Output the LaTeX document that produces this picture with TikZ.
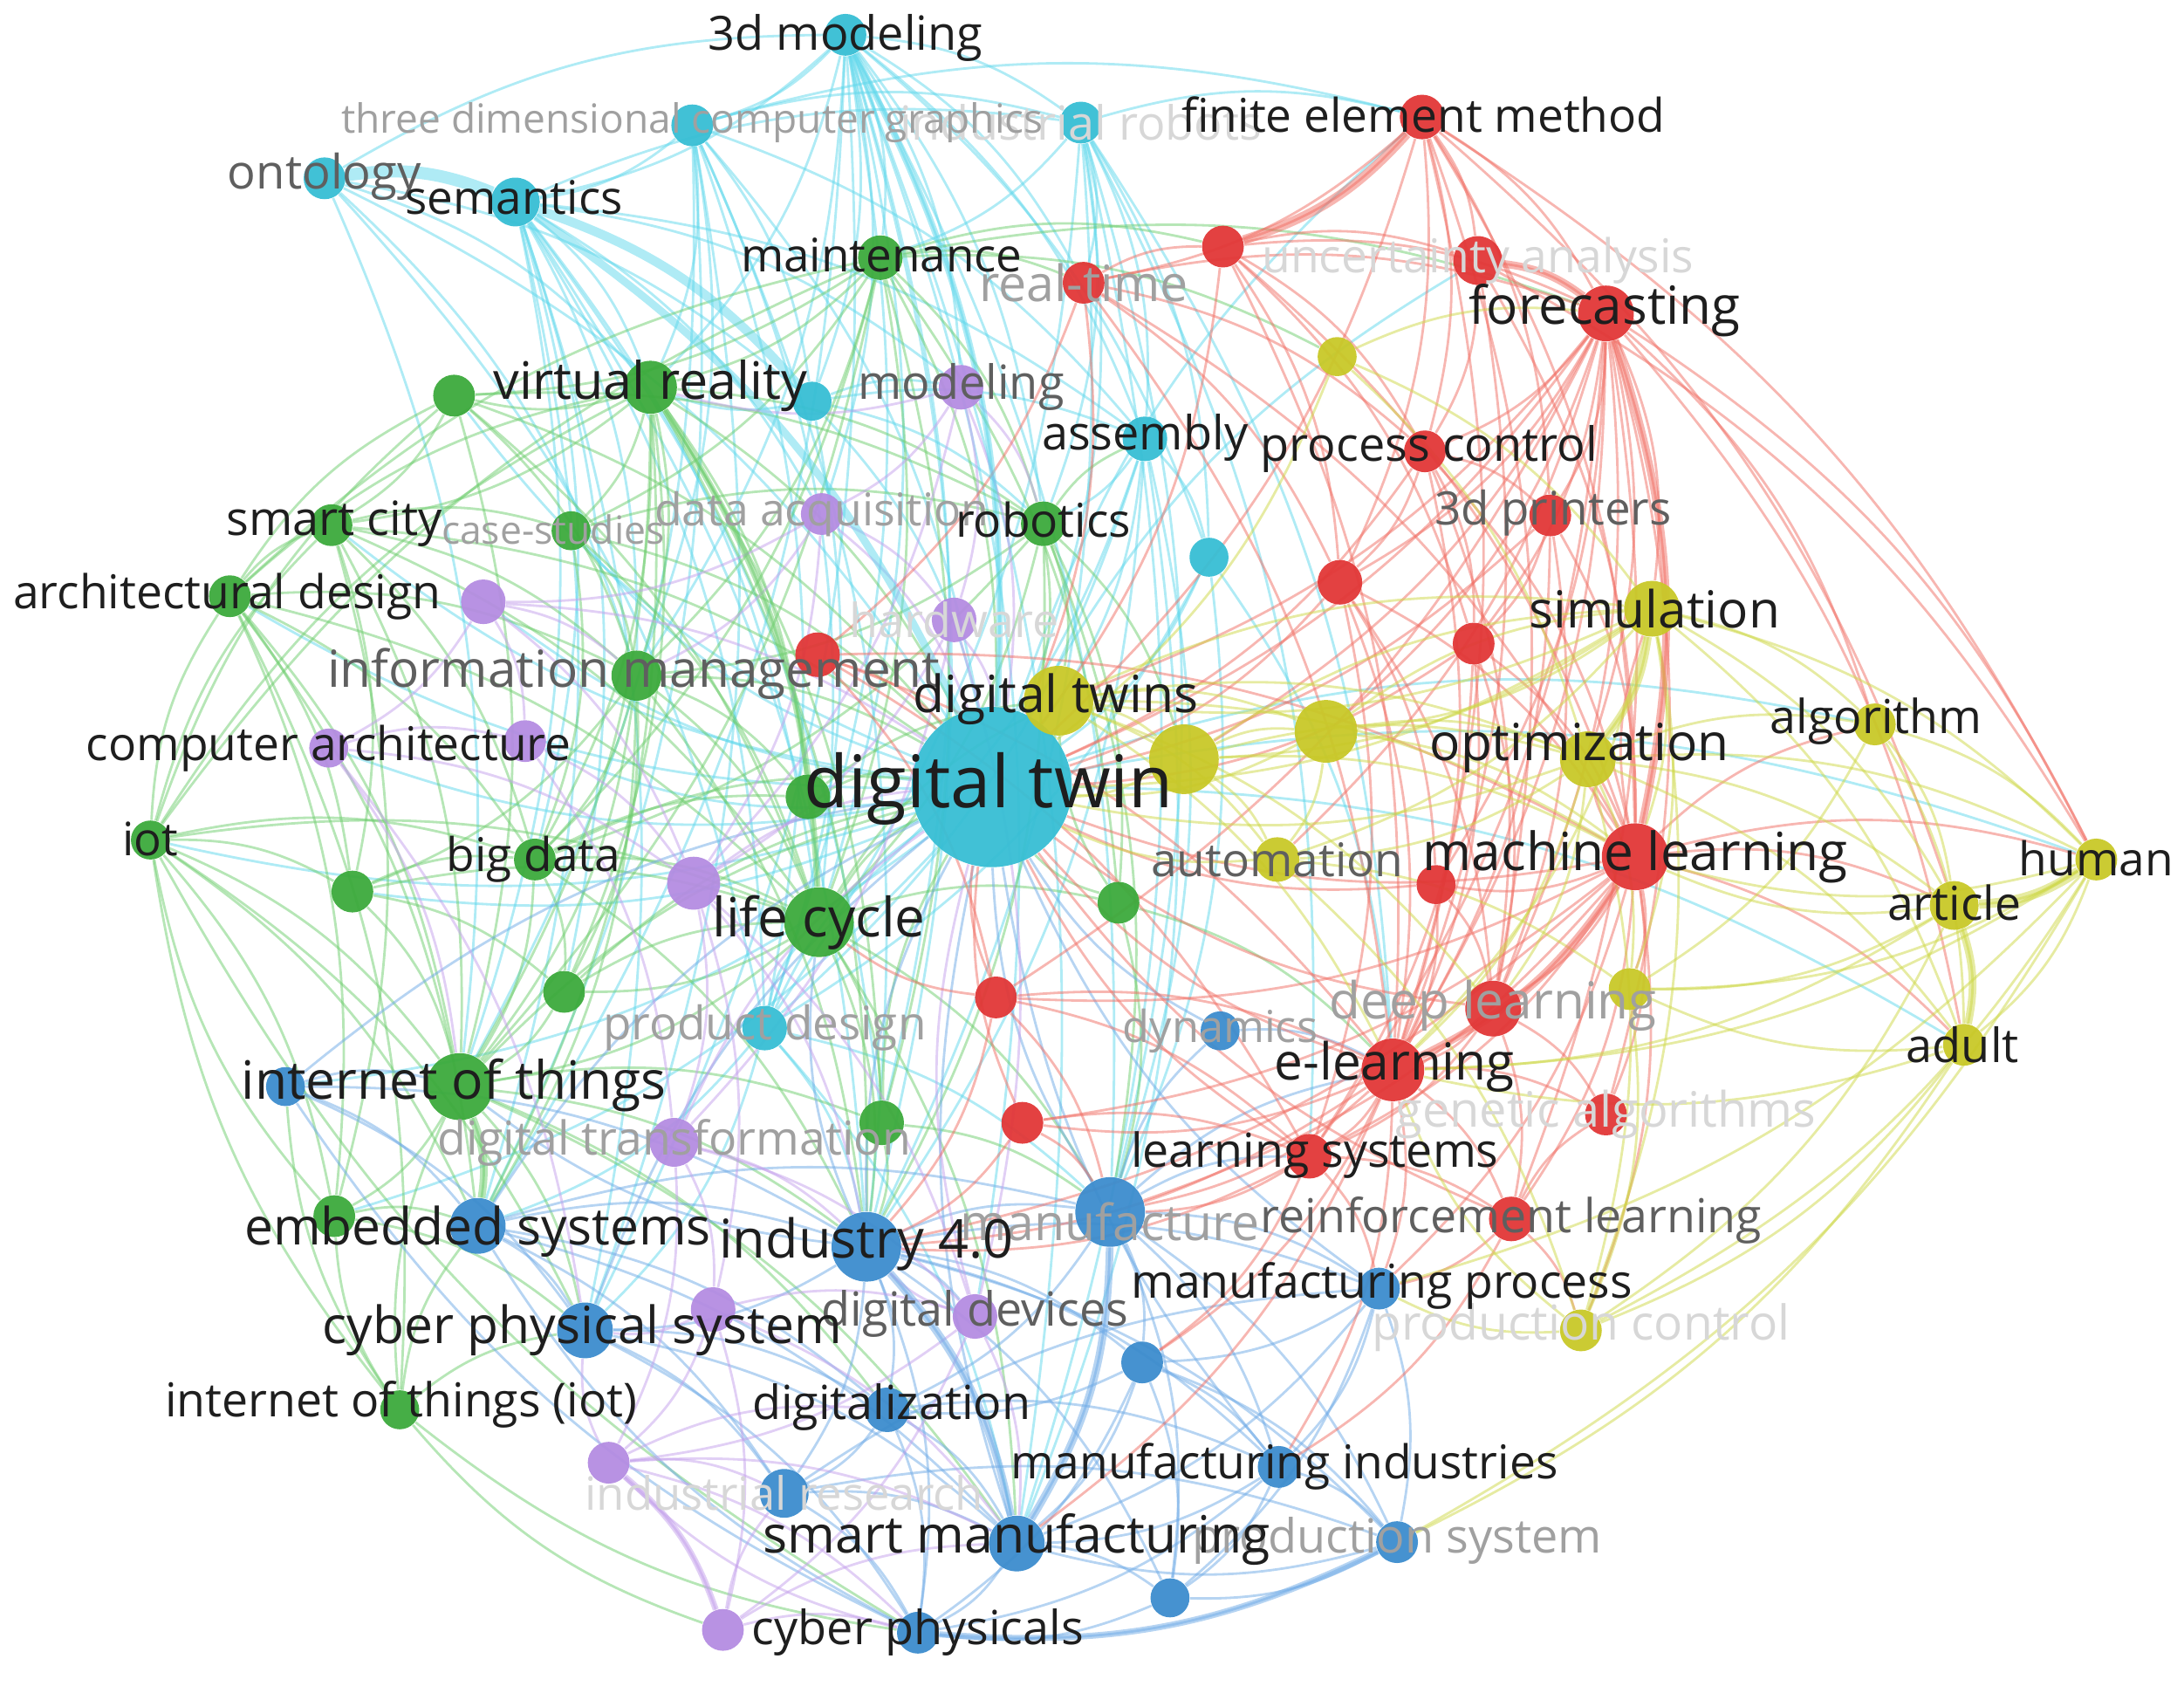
\documentclass[tikz,border=0pt]{standalone}
\usepackage{fontspec}
\setmainfont{Open Sans}
\usepackage{graphicx}
\newlength\pxu \setlength\pxu{0.15963mm}
\definecolor{nCy}{RGB}{55,190,212}
\definecolor{nGr}{RGB}{60,170,60}
\definecolor{nBl}{RGB}{60,140,205}
\definecolor{nYe}{RGB}{200,200,40}
\definecolor{nPu}{RGB}{180,140,225}
\definecolor{nRe}{RGB}{225,55,55}
\definecolor{eCy}{RGB}{95,215,235}
\definecolor{eGr}{RGB}{110,205,110}
\definecolor{eBl}{RGB}{110,170,230}
\definecolor{eYe}{RGB}{205,215,70}
\definecolor{ePu}{RGB}{195,160,235}
\definecolor{eRe}{RGB}{240,110,100}
\definecolor{tDark}{RGB}{30,30,30}
\definecolor{tMid}{RGB}{95,95,95}
\definecolor{tLight}{RGB}{160,160,160}
\definecolor{tFaint}{RGB}{215,215,215}
\pgfdeclarelayer{edges}\pgfdeclarelayer{labels}
\pgfsetlayers{edges,main,labels}
\tikzset{
  kw/.style={circle, inner sep=0pt, minimum size=#1*0.15963mm, fill opacity=0.95},
  kcy/.style={kw=#1, fill=nCy}, kgr/.style={kw=#1, fill=nGr},
  kbl/.style={kw=#1, fill=nBl}, kye/.style={kw=#1, fill=nYe},
  kpu/.style={kw=#1, fill=nPu}, kre/.style={kw=#1, fill=nRe},
  ed/.style={line width=0.8pt, draw opacity=0.5},
  ecy/.style={ed, draw=eCy}, egr/.style={ed, draw=eGr}, ebl/.style={ed, draw=eBl},
  eye/.style={ed, draw=eYe}, epu/.style={ed, draw=ePu}, ere/.style={ed, draw=eRe},
  lb/.style={inner sep=0pt},
  tdark/.style={lb, text=tDark}, tmid/.style={lb, text=tMid},
  tlight/.style={lb, text=tLight}, tfaint/.style={lb, text=tFaint},
  bnd/.style={bend left=15}
}
\newcommand\kwl[6]{\node[#5] (l#1) at (#2,#3) {\resizebox{#4\pxu}{!}{#6}};}
\begin{document}
\begin{tikzpicture}[x=0.15963mm, y=-0.15963mm]
\useasboundingbox (0,0) rectangle (1568,1220);
% ---------------- nodes ----------------
% cyan
\node[kcy=115] (dt) at (712,565) {};
\node[kcy=30] (m3d) at (607,25) {};
\node[kcy=30] (tdcg) at (497,90) {};
\node[kcy=30] (irob) at (776,88) {};
\node[kcy=30] (onto) at (233,128) {};
\node[kcy=35] (sem) at (370,145) {};
\node[kcy=28] (cy7) at (583,288) {};
\node[kcy=32] (asm) at (822,315) {};
\node[kcy=28] (cy9) at (868,400) {};
\node[kcy=32] (pd) at (549,738) {};
% green
\node[kgr=32] (mnt) at (632,185) {};
\node[kgr=38] (vr) at (467,278) {};
\node[kgr=30] (g3) at (326,284) {};
\node[kgr=30] (sc) at (238,377) {};
\node[kgr=28] (cs) at (410,381) {};
\node[kgr=32] (rob) at (749,376) {};
\node[kgr=30] (ad) at (165,428) {};
\node[kgr=36] (im) at (457,485) {};
\node[kgr=28] (iot) at (108,603) {};
\node[kgr=30] (g10) at (253,640) {};
\node[kgr=30] (bd) at (384,617) {};
\node[kgr=32] (g12) at (580,572) {};
\node[kgr=50] (lc) at (588,662) {};
\node[kgr=30] (g14) at (803,648) {};
\node[kgr=30] (g15) at (405,712) {};
\node[kgr=48] (iotb) at (330,780) {};
\node[kgr=32] (g17) at (633,806) {};
\node[kgr=30] (g18) at (240,873) {};
\node[kgr=28] (iotp) at (287,1012) {};
% blue
\node[kbl=28] (b1) at (205,780) {};
\node[kbl=40] (es) at (343,880) {};
\node[kbl=50] (i40) at (622,895) {};
\node[kbl=50] (mf) at (797,870) {};
\node[kbl=40] (cps) at (420,955) {};
\node[kbl=30] (mp) at (990,925) {};
\node[kbl=30] (b7) at (820,978) {};
\node[kbl=32] (dg) at (637,1012) {};
\node[kbl=35] (ir) at (563,1072) {};
\node[kbl=30] (mi) at (918,1053) {};
\node[kbl=40] (sm) at (730,1108) {};
\node[kbl=30] (ps) at (1003,1107) {};
\node[kbl=28] (b13) at (840,1147) {};
\node[kbl=30] (cph) at (659,1172) {};
\node[kbl=28] (dyn) at (876,740) {};
% purple
\node[kpu=32] (mdl) at (690,278) {};
\node[kpu=30] (da) at (590,369) {};
\node[kpu=32] (p3) at (347,432) {};
\node[kpu=32] (hw) at (685,445) {};
\node[kpu=28] (ca) at (236,537) {};
\node[kpu=30] (p6) at (377,532) {};
\node[kpu=38] (p7) at (498,634) {};
\node[kpu=35] (dtr) at (484,820) {};
\node[kpu=32] (p9) at (512,940) {};
\node[kpu=32] (dd) at (700,945) {};
\node[kpu=30] (p11) at (437,1050) {};
\node[kpu=30] (p12) at (519,1170) {};
% red
\node[kre=32] (fem) at (1021,84) {};
\node[kre=30] (rt) at (778,203) {};
\node[kre=30] (r3) at (878,177) {};
\node[kre=35] (ua) at (1061,187) {};
\node[kre=40] (fc) at (1153,225) {};
\node[kre=30] (pc) at (1023,324) {};
\node[kre=30] (p3d) at (1113,370) {};
\node[kre=32] (r8) at (962,418) {};
\node[kre=30] (r9) at (1058,462) {};
\node[kre=32] (r10) at (587,470) {};
\node[kre=48] (ml) at (1174,615) {};
\node[kre=28] (r12) at (1031,635) {};
\node[kre=30] (r13) at (715,716) {};
\node[kre=40] (dl) at (1072,724) {};
\node[kre=45] (el) at (1000,768) {};
\node[kre=30] (r16) at (734,806) {};
\node[kre=30] (ga) at (1153,800) {};
\node[kre=32] (ls) at (940,830) {};
\node[kre=32] (rl) at (1085,875) {};
% yellow
\node[kye=50] (dts) at (760,503) {};
\node[kye=50] (y2) at (850,545) {};
\node[kye=45] (y3) at (952,525) {};
\node[kye=28] (y4) at (960,256) {};
\node[kye=40] (sim) at (1186,437) {};
\node[kye=40] (opt) at (1140,545) {};
\node[kye=30] (alg) at (1346,520) {};
\node[kye=32] (aut) at (917,617) {};
\node[kye=30] (hum) at (1505,617) {};
\node[kye=35] (art) at (1403,650) {};
\node[kye=30] (y11) at (1170,710) {};
\node[kye=30] (adu) at (1410,750) {};
\node[kye=30] (pco) at (1135,955) {};
% ---------------- edges ----------------
\begin{pgfonlayer}{edges}
% cyan
\foreach \s/\ts in {
 m3d/{tdcg,irob,sem,dt,cy7,asm,cy9,pd,mnt,vr,rob,im,lc,da,mdl,i40,es,rt,sm,mf,cps,g17,dd},
 tdcg/{sem,dt,cy7,asm,pd,vr,im,irob,lc,es,i40,iotb,cps,fem},
 irob/{dt,asm,cy9,rob,pd,rt,mnt,i40,fem,sm,mf,el,ls},
 onto/{dt,pd,im,vr,iotb,cy7,m3d},
 sem/{pd,asm,vr,im,lc,bd,g15,i40,da,mdl,es,cps,iotb,g17,irob},
 cy7/{dt,asm,pd,vr,rob,mdl},
 asm/{dt,pd,cy9,rob,mf,i40,lc,sm},
 cy9/{dt,pd,mf,el},
 pd/{dt,lc,i40,mf,sm,es,cps},
 dt/{g3,sc,cs,ad,iot,g10,g18,b1,p3,ca,p6,hum,alg,adu,fem,ua}}
 {\foreach \t in \ts {\draw[ecy] (\s) to[bnd] (\t);}}
% green
\foreach \s/\ts in {
 mnt/{vr,g3,rob,im,dt,lc,cs,bd,iotb,g14,rt,r3,y4,g17,fc},
 vr/{g3,sc,cs,rob,im,dt,lc,bd,iotb,g12,g15,es,i40,g17},
 g3/{sc,im,dt,iotb,lc,rob},
 sc/{cs,im,g10,bd,dt,iotb,g18,lc},
 ad/{im,g10,bd,iotb,g18,lc,es,iotp,mnt,vr,g3,sc},
 cs/{im,rob,dt,lc,bd},
 rob/{dt,im,lc,g14,i40,mf,asm,dts,y2,bd},
 im/{dt,lc,bd,iotb,g12,g15,g10,i40,es},
 iot/{g10,iotb,g18,bd,es,lc,cps,ad,sc,g3,vr,mnt},
 g10/{bd,iotb,g15,lc},
 bd/{lc,iotb,dt,g15,g12,i40},
 lc/{dt,iotb,g17,g14,i40,mf,g15,dts,sm},
 g14/{dt,el,mf,dts},
 g15/{iotb,dt,lc},
 iotb/{dt,es,cps,g18,i40,g17,sm,dg},
 g17/{dt,i40,mf},
 g18/{es,cps,iot},
 iotp/{es,cps,iotb,g18,iot,b1},
 cph/{iotp,iot},
 p12/{iotp},
 g12/{dt,dts}}
 {\foreach \t in \ts {\draw[egr] (\s) to[bnd] (\t);}}
% blue
\foreach \s/\ts in {
 b1/{es,cps,dt,i40,iotb},
 es/{cps,i40,dt,mf,dg,sm,ir},
 i40/{dt,mf,cps,sm,dg,ir,mi,b7,mp,ps,cph,b13,dd,lc,iotb},
 mf/{dt,sm,mp,mi,b7,ps,dg,b13,dyn,el,ls},
 cps/{dt,sm,dg,ir,cph},
 mp/{sm,mi,ps,b7,dt,b13},
 b7/{sm,mi,ps,dg,cph,b13},
 dg/{sm,ir,cph,mi},
 ir/{sm,cph,ps,mp},
 mi/{sm,ps,b13,cph,dt},
 sm/{b13,cph,dt},
 ps/{b13,cph,sm},
 b13/{cph},
 cph/{es,b1},
 dyn/{dt,el}}
 {\foreach \t in \ts {\draw[ebl] (\s) to[bnd] (\t);}}
% purple
\foreach \s/\ts in {
 mdl/{dt,da,hw,rob,vr,p7},
 da/{dt,hw,p3,p7,im},
 p3/{ca,p6,im,dt,p7},
 hw/{dt,p7,dd,dtr},
 ca/{p6,p7,iotb,cps},
 p6/{p7,dtr},
 p7/{dt,dtr,p9,dd,i40},
 dtr/{p9,dd,dt,p11,i40},
 p9/{dd,p11,p12,cps,sm},
 dd/{dt,p11,p12,i40,sm},
 p11/{p12,ir,cps,sm,dg,cph},
 p12/{cph,sm,ir},
 cph/{p11}}
 {\foreach \t in \ts {\draw[epu] (\s) to[bnd] (\t);}}
% red
\foreach \s/\ts in {
 fem/{fc,ua,r3,pc,ml,dt,el,rt,dl,p3d,r8,hum,art},
 rt/{r3,fc,dt,ml,pc,el,r8,r10},
 r3/{ua,fc,pc,ml,el,dt,r8,r9},
 ua/{fc,ml,pc,el,hum},
 fc/{ml,pc,p3d,el,dl,r9,r8,dt,ls,rl,r12,ga,alg,hum,sim,opt,y3,y2,dts,aut,r13,adu},
 pc/{ml,el,p3d,dt,r8,r9,dl},
 p3d/{ml,el,dt,dl,r9},
 r8/{ml,el,dt,dl,r12,ls},
 r9/{ml,el,dl,dt,ls},
 r10/{dt,el,ml,r13,ls},
 ml/{dt,el,dl,ls,rl,ga,r12,r13,r16,hum,art,adu,sim,opt,alg,y11,mp,pco,mf,i40},
 r12/{el,dl,dt},
 r13/{el,dt,ls,mf,i40,lc},
 dl/{el,ls,rl,ga,dt},
 el/{dt,ls,rl,ga,r16,mp,mf,i40,sm,b7,mi},
 r16/{ls,dt,i40,mf},
 ls/{rl,dt,mf,mp,b7,i40},
 rl/{dt,ga,mp,pco,mi}}
 {\foreach \t in \ts {\draw[ere] (\s) to[bnd] (\t);}}
% yellow
\foreach \s/\ts in {
 dts/{dt,y2,y3,sim,opt,aut,ml,el,dl},
 y2/{dt,y3,opt,sim,aut,ml},
 y3/{dt,opt,sim,aut,ml},
 y4/{dt,sim,opt,fc},
 sim/{opt,alg,art,hum,adu,dt,y11,pco,aut,ml,el,dts,y2,y3},
 opt/{alg,art,hum,adu,dt,aut,y11,pco,el,dl},
 alg/{art,hum,adu,y11},
 aut/{dt,y11,pco},
 hum/{art,adu,y11,pco,ps,mp,ml,el},
 art/{adu,y11,pco,el,ml},
 adu/{y11,pco,ps,el},
 y11/{pco},
 pco/{mp,el}}
 {\foreach \t in \ts {\draw[eye] (\s) to[bnd] (\t);}}
% strong links
\draw[ecy, line width=4pt] (onto) to[bnd] (sem);
\draw[ecy, line width=3pt] (sem) to[bnd] (cy7);
\draw[ecy, line width=2.5pt] (sem) to[bnd] (dt);
\draw[ecy, line width=2pt] (m3d) to[bnd] (dt);
\draw[ere, line width=3pt] (fem) to[bnd] (r3);
\draw[ere, line width=2.5pt] (ua) to[bnd] (fc);
\draw[ere, line width=2.5pt] (fc) to[bnd] (ml);
\draw[ere, line width=2.5pt] (ml) to[bnd] (el);
\draw[ebl, line width=2.5pt] (i40) to[bnd] (sm);
\draw[ebl, line width=2.5pt] (mf) to[bnd] (sm);
\draw[ebl, line width=2pt] (ps) to[bnd] (cph);
\draw[eye, line width=3pt] (hum) to[bnd] (art);
\draw[eye, line width=2.5pt] (art) to[bnd] (adu);
\draw[eye, line width=2.5pt] (sim) to[bnd] (opt);
\draw[egr, line width=2.5pt] (iotb) to[bnd] (es);
\draw[egr, line width=2pt] (vr) to[bnd] (lc);
\draw[epu, line width=2pt] (p11) to[bnd] (p12);
\end{pgfonlayer}
% ---------------- labels ----------------
\begin{pgfonlayer}{labels}
% faint
\kwl{irob}{776}{88}{260}{tfaint}{industrial robots}
\kwl{ir}{563}{1072}{286}{tfaint}{industrial research}
\kwl{hw}{685}{445}{150}{tfaint}{hardware}
\kwl{ua}{1061}{187}{310}{tfaint}{uncertainty analysis}
\kwl{ga}{1153}{800}{302}{tfaint}{genetic algorithms}
\kwl{pco}{1135}{953}{300}{tfaint}{production control}
% light
\kwl{tdcg}{497}{88}{504}{tlight}{three dimensional computer graphics}
\kwl{pd}{549}{738}{232}{tlight}{product design}
\kwl{cs}{397}{380}{160}{tlight}{case-studies}
\kwl{mf}{797}{877}{215}{tlight}{manufacture}
\kwl{ps}{1003}{1106}{294}{tlight}{production system}
\kwl{dyn}{876}{740}{140}{tlight}{dynamics}
\kwl{da}{590}{369}{240}{tlight}{data acquisition}
\kwl{dtr}{484}{820}{340}{tlight}{digital transformation}
\kwl{rt}{778}{203}{150}{tlight}{real-time}
\kwl{dl}{1072}{722}{235}{tlight}{deep learning}
% mid
\kwl{onto}{233}{127}{139}{tmid}{ontology}
\kwl{im}{455}{484}{440}{tmid}{information management}
\kwl{mdl}{690}{278}{148}{tmid}{modeling}
\kwl{p3d}{1115}{368}{170}{tmid}{3d printers}
\kwl{rl}{1085}{876}{360}{tmid}{reinforcement learning}
\kwl{aut}{917}{617}{181}{tmid}{automation}
\kwl{dd}{700}{943}{220}{tmid}{digital devices}
% dark
\kwl{m3d}{607}{27}{197}{tdark}{3d modeling}
\kwl{sem}{369}{142}{156}{tdark}{semantics}
\kwl{asm}{822}{314}{148}{tdark}{assembly}
\kwl{mnt}{633}{183}{202}{tdark}{maintenance}
\kwl{vr}{467}{277}{225}{tdark}{virtual reality}
\kwl{sc}{240}{376}{155}{tdark}{smart city}
\kwl{rob}{749}{373}{126}{tdark}{robotics}
\kwl{ad}{163}{428}{307}{tdark}{architectural design}
\kwl{iot}{108}{602}{40}{tdark}{iot}
\kwl{bd}{383}{617}{125}{tdark}{big data}
\kwl{lc}{588}{662}{153}{tdark}{life cycle}
\kwl{iotb}{326}{779}{305}{tdark}{internet of things}
\kwl{iotp}{288}{1008}{339}{tdark}{internet of things (iot)}
\kwl{es}{343}{884}{335}{tdark}{embedded systems}
\kwl{i40}{622}{893}{211}{tdark}{industry 4.0}
\kwl{cps}{418}{955}{373}{tdark}{cyber physical system}
\kwl{mp}{992}{923}{360}{tdark}{manufacturing process}
\kwl{dg}{640}{1010}{200}{tdark}{digitalization}
\kwl{mi}{922}{1053}{393}{tdark}{manufacturing industries}
\kwl{sm}{730}{1105}{364}{tdark}{smart manufacturing}
\kwl{cph}{659}{1172}{238}{tdark}{cyber physicals}
\kwl{ca}{236}{537}{348}{tdark}{computer architecture}
\kwl{fem}{1022}{82}{347}{tdark}{finite element method}
\kwl{fc}{1152}{223}{195}{tdark}{forecasting}
\kwl{pc}{1026}{322}{242}{tdark}{process control}
\kwl{ml}{1174}{615}{305}{tdark}{machine learning}
\kwl{el}{1001}{766}{172}{tdark}{e-learning}
\kwl{ls}{944}{829}{264}{tdark}{learning systems}
\kwl{sim}{1188}{437}{180}{tdark}{simulation}
\kwl{opt}{1134}{537}{215}{tdark}{optimization}
\kwl{alg}{1347}{518}{152}{tdark}{algorithm}
\kwl{hum}{1505}{616}{111}{tdark}{human}
\kwl{art}{1403}{648}{96}{tdark}{article}
\kwl{adu}{1409}{750}{81}{tdark}{adult}
\kwl{dts}{758}{502}{205}{tdark}{digital twins}
\kwl{dt}{710}{566}{265}{tdark}{digital twin}
\end{pgfonlayer}
\end{tikzpicture}
\end{document}
